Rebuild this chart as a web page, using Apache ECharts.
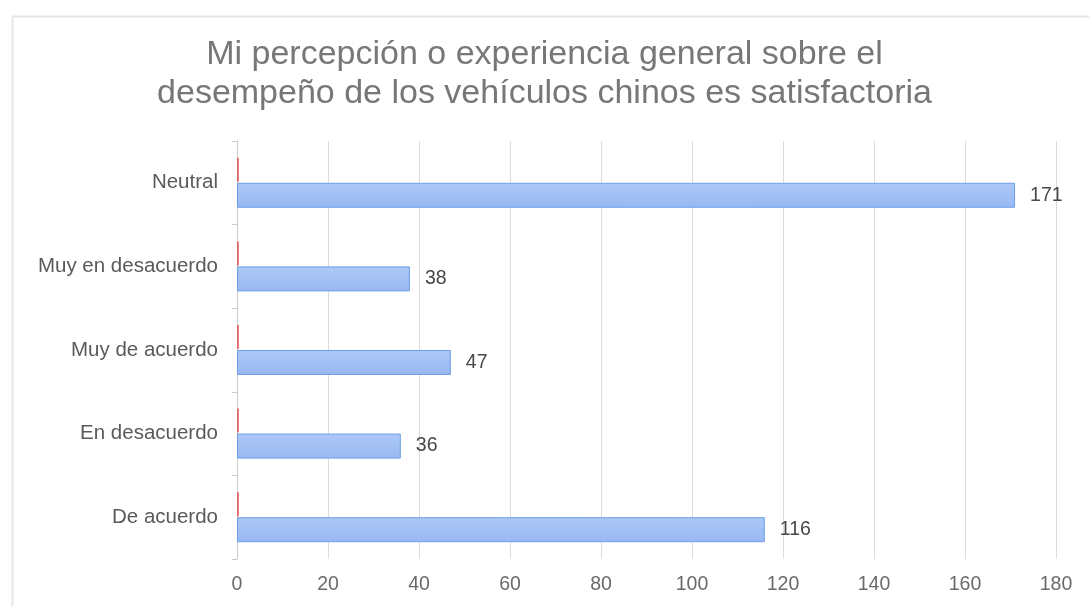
<!DOCTYPE html>
<html>
<head>
<meta charset="utf-8">
<script src="https://cdn.jsdelivr.net/npm/echarts@6/dist/echarts.min.js"></script>
<style>
  html, body { margin: 0; padding: 0; background: #fff; }
  #chart { width: 1089px; height: 606px; }
</style>
</head>
<body>
<div id="chart"></div>
<script>
// Survey answers, listed bottom to top on the category axis
const categories = ['De acuerdo', 'En desacuerdo', 'Muy de acuerdo', 'Muy en desacuerdo', 'Neutral'];
const counts = [116, 36, 47, 38, 171];
// Secondary series: near-zero values that show as thin red slivers
const secondary = [0.4, 0.4, 0.4, 0.4, 0.4];
const xTicks = { min: 0, max: 180, interval: 20 };
const titleText = 'Mi percepción o experiencia general sobre el\ndesempeño de los vehículos chinos es satisfactoria';

const chart = echarts.init(document.getElementById('chart'));
const font = '"Liberation Sans", Arial, sans-serif';

chart.setOption({
  animation: false,
  textStyle: { fontFamily: font },
  graphic: [{
    type: 'rect',
    shape: { x: 12.5, y: 16.5, width: 1200, height: 700 },
    style: { fill: 'none', stroke: '#e6e6e6', lineWidth: 2 },
    z: -1
  }],
  title: {
    text: titleText,
    left: 'center',
    top: 30,
    textStyle: { fontFamily: font, fontSize: 34, fontWeight: 'normal', color: '#777', lineHeight: 39 }
  },
  grid: { left: 237, right: 33, top: 141, bottom: 47, containLabel: false },
  xAxis: {
    type: 'value',
    min: xTicks.min, max: xTicks.max, interval: xTicks.interval,
    axisLine: { show: false },
    axisTick: { show: false },
    splitLine: { show: true, lineStyle: { color: '#dcdcdc', width: 1 } },
    axisLabel: { color: '#6a6a6a', fontSize: 19.5, margin: 16, fontFamily: font }
  },
  yAxis: {
    type: 'category',
    data: categories,
    axisLine: { show: true, lineStyle: { color: '#cccccc', width: 1 } },
    axisTick: { show: true, length: 5, lineStyle: { color: '#cccccc' } },
    axisLabel: { color: '#5a5a5a', fontSize: 20.5, margin: 19, fontFamily: font }
  },
  series: [
    {
      type: 'bar',
      data: secondary,
      barWidth: 24,
      barGap: '4%',
      itemStyle: { color: '#e06666' },
      silent: true
    },
    {
      type: 'bar',
      data: counts,
      barWidth: 25,
      itemStyle: {
        color: new echarts.graphic.LinearGradient(0, 0, 0, 1, [
          { offset: 0, color: '#adc8f6' },
          { offset: 1, color: '#98b8f2' }
        ]),
        borderColor: '#6d9eeb',
        borderWidth: 1
      },
      label: {
        show: true,
        position: 'right',
        distance: 15,
        color: '#474747',
        fontSize: 19.5,
        fontFamily: font
      }
    }
  ]
});
</script>
</body>
</html>
